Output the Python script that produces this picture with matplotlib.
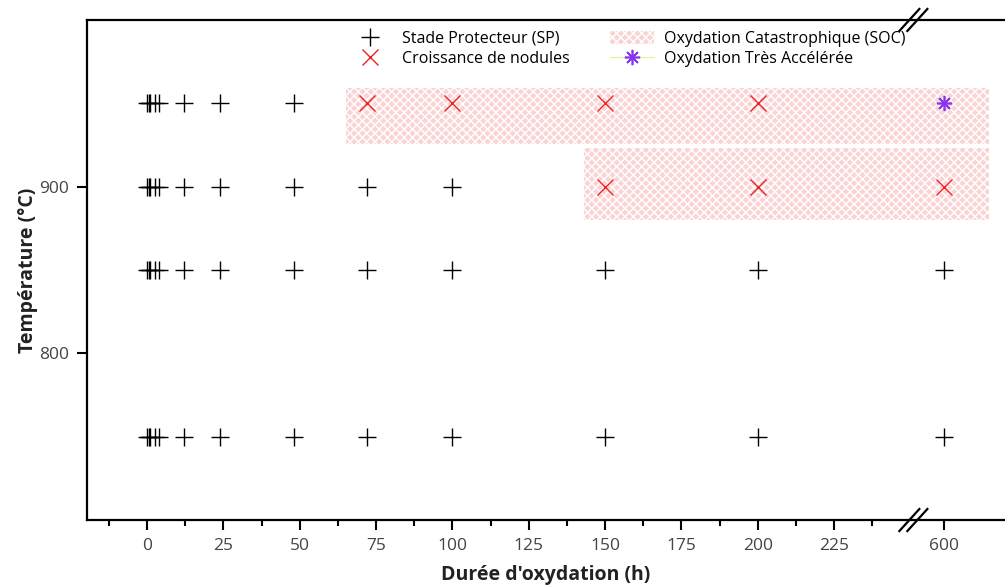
import matplotlib.pyplot as plt
from matplotlib.patches import Patch
from matplotlib.lines import Line2D
import numpy as np

plt.rcParams['font.family'] = ['Open Sans', 'DejaVu Sans']
plt.rcParams['hatch.linewidth'] = 1.0

# durations (h) and temperatures (C)
times = [0, 0.5, 1, 2.5, 4, 12, 24, 48, 72, 100, 150, 200, 600]
temps = [950, 900, 850, 750]

# state of each sample: 'SP' protective, 'N' nodules, 'TA' very accelerated
states = {
    950: ['SP'] * 8 + ['N', 'N', 'N', 'N', 'TA'],
    900: ['SP'] * 10 + ['N', 'N', 'N'],
    850: ['SP'] * 13,
    750: ['SP'] * 13,
}

# catastrophic oxidation zones: (t_start, t_end, T_low, T_high)
soc_zones = [(65, 614.8, 925.5, 959), (143, 614.8, 880.2, 923.4)]

xticks = [0, 25, 50, 75, 100, 125, 150, 175, 200, 225, 600]
yticks = [800, 900]

# broken x axis: compress the gap between 250 and 589.5
xp = [-1000, 250, 589.5, 2000]
fp = [-1000, 250, 250.5, 1661]

def fwd(x):
    return np.interp(x, xp, fp)

def inv(x):
    return np.interp(x, fp, xp)

fig = plt.figure(figsize=(10.05, 5.87), dpi=100)
ax = fig.add_axes([0.0866, 0.1141, 0.9134, 0.8519])
ax.set_xscale('function', functions=(fwd, inv))

for t0, t1, lo, hi in soc_zones:
    ax.fill_between([t0, t1], lo, hi, facecolor='#fad4d4', edgecolor='white',
                    hatch='xxxx', linewidth=0)

styles = {
    'SP': dict(marker='+', color='black', ms=13, mew=1.0),
    'N': dict(marker='x', color='#ee2222', ms=11, mew=1.0),
    'TA': dict(marker=(8, 2, 0), color='#8833ee', ms=11, mew=1.2),
}
for T in temps:
    for t, s in zip(times, states[T]):
        ax.plot(t, T, ls='none', **styles[s])

ax.set_xlim(-19.7, 620)
ax.set_ylim(700, 1000)
ax.set_xticks(xticks)
ax.set_xticks([-12.5, 12.5, 37.5, 62.5, 87.5, 112.5, 137.5, 162.5, 187.5,
               212.5, 237.5], minor=True)
ax.set_yticks(yticks)
ax.tick_params(axis='both', which='major', length=7, width=1.5,
               labelsize=12.5, labelcolor='#444444', pad=6)
ax.tick_params(axis='x', which='minor', length=4, width=1.5)
for side in ['left', 'bottom', 'top']:
    ax.spines[side].set_linewidth(1.6)
ax.spines['right'].set_visible(False)

ax.set_xlabel("Durée d'oxydation (h)", fontsize=14, fontweight='bold',
              color='#222222', labelpad=8)
ax.set_ylabel('Température (°C)', fontsize=14, fontweight='bold',
              color='#222222', labelpad=1)

# break marks on top and bottom spines (axes fraction coordinates)
lo_f, hi_f = fwd(-19.7), fwd(620)
xb = (fwd(250) - lo_f) / (hi_f - lo_f) + 3 / 918
for yb in [0, 1]:
    for dx in [-4, 4]:
        x0 = xb + (dx - 10) / 918
        x1 = xb + (dx + 10) / 918
        ax.plot([x0, x1], [yb - 11 / 500, yb + 11 / 500],
                transform=ax.transAxes, color='black', lw=1.6, clip_on=False)

handles = [
    Line2D([], [], ls='none', marker='+', color='black', ms=13, mew=1.0),
    Line2D([], [], ls='none', marker='x', color='#ee2222', ms=11, mew=1.0),
    Patch(facecolor='#fad4d4', edgecolor='white', hatch='xxxx', lw=0),
    Line2D([], [], color='#eeee88', lw=0.8, marker=(8, 2, 0),
           mfc='#8833ee', mec='#8833ee', ms=11, mew=1.2),
]
labels = ['Stade Protecteur (SP)', 'Croissance de nodules',
          'Oxydation Catastrophique (SOC)', 'Oxydation Très Accélérée']
ax.legend(handles, labels, ncol=2, frameon=False, loc='upper left',
          bbox_to_anchor=(0.284, 0.978), borderaxespad=0, borderpad=0,
          fontsize=11.5, handlelength=2.8, handleheight=0.8,
          labelspacing=0.25, columnspacing=2.5, handletextpad=0.6)

plt.savefig('out.png', dpi=100)
